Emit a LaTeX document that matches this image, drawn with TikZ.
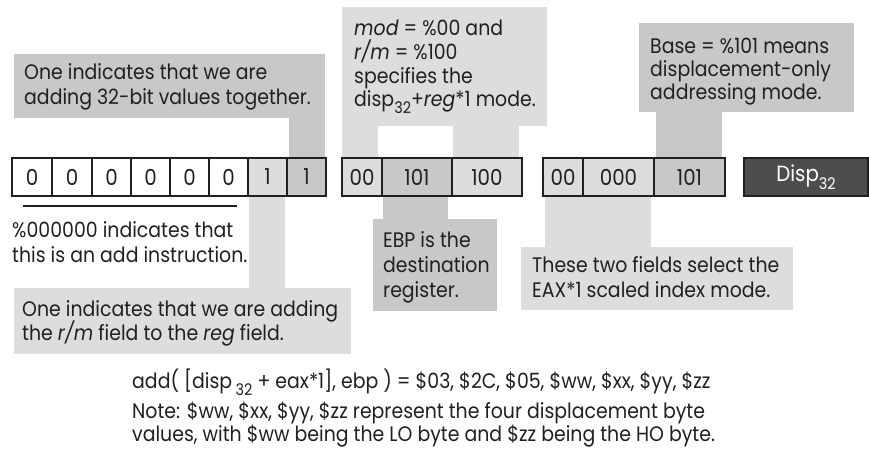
\documentclass[tikz,border=0pt]{standalone}
\usepackage{fontspec}
\setmainfont{Poppins}[FakeStretch=0.9]
\definecolor{lightg}{HTML}{DCDDDE}
\definecolor{medg}{HTML}{C7C8CA}
\definecolor{darkg}{HTML}{4D4D4F}
\definecolor{txt}{HTML}{231F20}
\newcommand\fsz{\fontsize{21}{24}\selectfont}
\newcommand\csz{\fontsize{22}{24}\selectfont}
\newcommand\lowsub[1]{\raisebox{-0.38em}{\fontsize{16}{16}\selectfont #1}}
\begin{document}
\begin{tikzpicture}[x=1pt,y=-1pt,
  lbl/.style={anchor=base west, inner sep=0pt, font=\fsz, text=txt},
  cell/.style={draw=txt, line width=1.6pt, minimum height=38pt, inner sep=0pt, font=\csz, text=txt}]
\useasboundingbox (0,0) rectangle (869,464);
% callout shapes
\fill[medg] (14,54) rectangle (325,118);
\fill[medg] (289,117) rectangle (325,159);
\fill[lightg] (14,288) rectangle (351,354);
\fill[lightg] (249,195) rectangle (285,289);
\fill[lightg] (342,7) rectangle (547,126);
\fill[lightg] (342,125) rectangle (378,159);
\fill[lightg] (453,125) rectangle (519,159);
\fill[medg] (373,219) rectangle (497,311);
\fill[medg] (383,195) rectangle (448,220);
\fill[medg] (639,23) rectangle (854,112);
\fill[medg] (656,111) rectangle (722,159);
\fill[lightg] (521,247) rectangle (793,310);
\fill[lightg] (545,195) rectangle (651,248);
% opcode bits
\foreach \i/\a/\b/\t/\c in {1/12/52/0/white,2/52/92/0/white,3/92/131/0/white,4/131/170/0/white,5/170/209/0/white,6/209/248/0/white,7/248/287/1/lightg,8/287/326/1/medg}
  \node[cell, fill=\c, minimum width={\b-\a}] (bit\i) at ({(\a+\b)/2},177) {\t};
% mod-reg-r/m
\node[cell, fill=lightg, minimum width=40] (mod) at (362,177) {00};
\node[cell, fill=medg, minimum width=70] (reg) at (417,177) {101};
\node[cell, fill=lightg, minimum width=70] (rm) at (487,177) {100};
% sib
\node[cell, fill=lightg, minimum width=40] (sc) at (563,177) {00};
\node[cell, fill=lightg, minimum width=71] (idx) at (618.5,177) {000};
\node[cell, fill=medg, minimum width=71] (base) at (689.5,177) {101};
% disp
\node[cell, fill=darkg, text=white, minimum width=124] (disp) at (806,177) {Disp\lowsub{32}};
% underline
\draw[txt, line width=1.6pt] (23,206) -- (237,206);
% texts
\node[lbl] (ta1) at (24,79) {One indicates that we are};
\node[lbl] (ta2) at (24,104) {adding 32-bit values together.};
\node[lbl] (tc1) at (354,35) {\textit{mod} = \%00 and};
\node[lbl] (tc2) at (354,59) {\textit{r/m} = \%100};
\node[lbl] (tc3) at (354,83) {specifies the};
\node[lbl] (tc4) at (354,106) {disp\lowsub{32}+\textit{reg}*1 mode.};
\node[lbl] (te1) at (650,53) {Base = \%101 means};
\node[lbl] (te2) at (650,76) {displacement-only};
\node[lbl] (te3) at (650,99) {addressing mode.};
\node[lbl] (tp1) at (12,237) {\%000000 indicates that};
\node[lbl] (tp2) at (12,262) {this is an add instruction.};
\node[lbl] (tb1) at (22,316) {One indicates that we are adding};
\node[lbl] (tb2) at (22,340) {the \textit{r/m} field to the \textit{reg} field.};
\node[lbl] (td1) at (383,247) {EBP is the};
\node[lbl] (td2) at (383,272) {destination};
\node[lbl] (td3) at (383,297) {register.};
\node[lbl] (tf1) at (532,272) {These two fields select the};
\node[lbl] (tf2) at (532,297) {EAX*1 scaled index mode.};
\node[lbl] (code) at (132,388) {add( [disp\,\lowsub{32} + eax*1], ebp ) = \$03, \$2C, \$05, \$ww, \$xx, \$yy, \$zz};
\node[lbl] (n1) at (132,418) {Note: \$ww, \$xx, \$yy, \$zz represent the four displacement byte};
\node[lbl] (n2) at (132,441) {values, with \$ww being the LO byte and \$zz being the HO byte.};
\end{tikzpicture}
\end{document}
